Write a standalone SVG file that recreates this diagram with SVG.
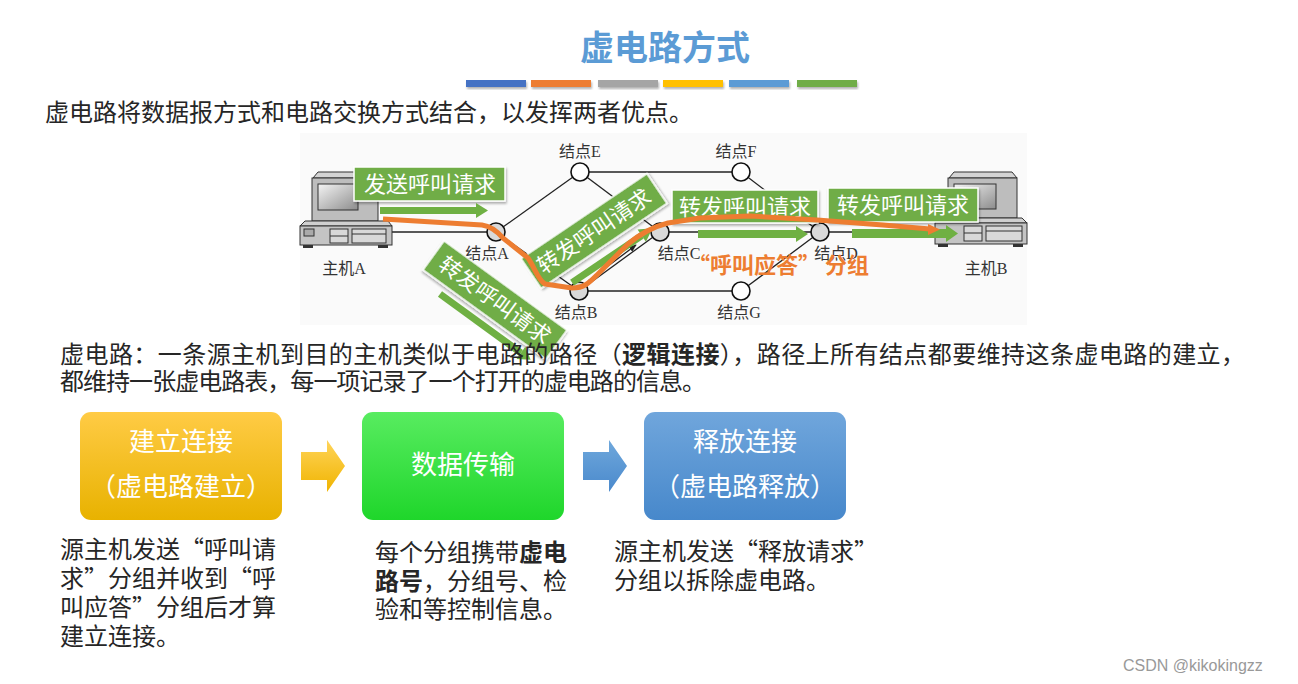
<svg xmlns="http://www.w3.org/2000/svg" width="1298" height="684" viewBox="0 0 1298 684">
<defs>
<style>
.cjk{font-family:"Noto Sans CJK SC","Liberation Sans",sans-serif;}
.body{font-family:"Noto Sans CJK SC","Liberation Sans",sans-serif;font-size:24px;fill:#262626;}
.lbl{font-family:"Liberation Serif","Noto Sans CJK SC",serif;font-size:16px;fill:#333;text-anchor:middle;}
.edge{stroke:#222;stroke-width:1.3;fill:none;}
.node{stroke:#111;stroke-width:1.6;}
.gtag{fill:#70ad47;stroke:#fff;stroke-width:1.5;}
.gtxt{font-family:"Noto Sans CJK SC","Liberation Sans",sans-serif;font-size:22px;fill:#fff;text-anchor:middle;}
.gbar{fill:#6fb043;}
.boxt{font-family:"Noto Sans CJK SC","Liberation Sans",sans-serif;font-size:26px;fill:#fff;text-anchor:middle;}
.pc{stroke:#333;stroke-width:1;}
</style>
<linearGradient id="gy" x1="0" y1="0" x2="0" y2="1"><stop offset="0" stop-color="#ffcb45"/><stop offset="1" stop-color="#e8b200"/></linearGradient>
<linearGradient id="gg" x1="0" y1="0" x2="0" y2="1"><stop offset="0" stop-color="#58ec60"/><stop offset="1" stop-color="#1fd62b"/></linearGradient>
<linearGradient id="gb" x1="0" y1="0" x2="0" y2="1"><stop offset="0" stop-color="#70a6dc"/><stop offset="1" stop-color="#4788cb"/></linearGradient>
<linearGradient id="gya" x1="0" y1="0" x2="0" y2="1"><stop offset="0" stop-color="#ffd45a"/><stop offset="1" stop-color="#f0b400"/></linearGradient>
<linearGradient id="gba" x1="0" y1="0" x2="0" y2="1"><stop offset="0" stop-color="#6fa8dc"/><stop offset="1" stop-color="#4a89cc"/></linearGradient>
<linearGradient id="scr" x1="0" y1="0" x2="1" y2="1"><stop offset="0" stop-color="#f4f4f4"/><stop offset="1" stop-color="#8c8c8c"/></linearGradient>
<marker id="ah" viewBox="0 0 10 10" refX="9" refY="5" markerWidth="6" markerHeight="6" orient="auto"><path d="M0,1 L10,5 L0,9 z" fill="#222"/></marker>
<filter id="sh" x="-5%" y="-20%" width="110%" height="160%"><feDropShadow dx="1" dy="2" stdDeviation="1.2" flood-color="#000" flood-opacity="0.3"/></filter>
</defs>
<rect width="1298" height="684" fill="#fff"/>

<!-- title -->
<g id="title">
<text x="665" y="60" class="cjk" font-size="34" font-weight="bold" fill="#5b9bd5" text-anchor="middle">虚电路方式</text>
<g filter="url(#sh)">
<rect x="466" y="80" width="60" height="7" fill="#4472c4"/>
<rect x="531" y="80" width="60" height="7" fill="#ed7d31"/>
<rect x="598" y="80" width="60" height="7" fill="#a5a5a5"/>
<rect x="663" y="80" width="60" height="7" fill="#ffc000"/>
<rect x="729" y="80" width="60" height="7" fill="#5b9bd5"/>
<rect x="797" y="80" width="60" height="7" fill="#70ad47"/>
</g>
</g>

<text class="body" x="45" y="121" textLength="648" lengthAdjust="spacing">虚电路将数据报方式和电路交换方式结合，以发挥两者优点。</text>

<!-- network figure -->
<rect x="300" y="133" width="727" height="192" fill="#fafafa"/>

<g id="connectors">
<line class="edge" x1="392" y1="232" x2="487" y2="232"/>
<line class="edge" x1="496" y1="232" x2="580" y2="172"/>
<line class="edge" x1="496" y1="232" x2="579" y2="291"/>
<line class="edge" x1="580" y1="172" x2="741" y2="172"/>
<line class="edge" x1="580" y1="172" x2="660" y2="232"/>
<line class="edge" x1="741" y1="172" x2="820" y2="232"/>
<line class="edge" x1="579" y1="291" x2="660" y2="232"/>
<line class="edge" x1="660" y1="232" x2="820" y2="232"/>
<line class="edge" x1="579" y1="291" x2="741" y2="291"/>
<line class="edge" x1="741" y1="291" x2="820" y2="232"/>
<line class="edge" x1="829" y1="232" x2="935" y2="232"/>
<line class="edge" x1="588" y1="281" x2="636" y2="245" marker-end="url(#ah)"/>
</g>

<g id="hostA">
<polygon class="pc" points="313,178 318,172 374,172 378,178" fill="#d4d4d4"/>
<rect class="pc" x="312" y="178" width="66" height="43" fill="#bdbdbd"/>
<rect class="pc" x="318" y="184" width="40" height="26" fill="url(#scr)"/>
<polygon class="pc" points="305,221 300,226 392,226 388,221" fill="#d0d0d0"/>
<rect class="pc" x="300" y="226" width="92" height="19" fill="#c4c4c4"/>
<rect class="pc" x="304" y="229" width="10" height="7" fill="#aaa"/>
<rect class="pc" x="330" y="229" width="18" height="14" fill="#d8d8d8"/>
<line class="pc" x1="330" y1="236" x2="348" y2="236"/>
<rect class="pc" x="352" y="229" width="34" height="14" fill="#d8d8d8"/>
<line class="pc" x1="352" y1="234" x2="386" y2="234"/>
<rect x="303" y="245" width="10" height="3" fill="#333"/>
<rect x="378" y="245" width="10" height="3" fill="#333"/>
<text class="lbl" x="344" y="274">主机A</text>
</g>

<g id="hostB">
<polygon class="pc" points="949,178 954,172 1012,172 1017,178" fill="#d4d4d4"/>
<rect class="pc" x="948" y="178" width="69" height="40" fill="#bdbdbd"/>
<rect class="pc" x="954" y="184" width="42" height="25" fill="url(#scr)"/>
<polygon class="pc" points="940,218 935,223 1027,223 1022,218" fill="#d0d0d0"/>
<rect class="pc" x="935" y="223" width="92" height="21" fill="#c4c4c4"/>
<rect class="pc" x="964" y="226" width="18" height="15" fill="#d8d8d8"/>
<line class="pc" x1="964" y1="233" x2="982" y2="233"/>
<rect class="pc" x="986" y="226" width="36" height="15" fill="#d8d8d8"/>
<line class="pc" x1="986" y1="231" x2="1022" y2="231"/>
<rect x="938" y="244" width="10" height="3" fill="#333"/>
<rect x="1013" y="244" width="10" height="3" fill="#333"/>
<text class="lbl" x="986" y="274">主机B</text>
</g>

<g id="nodeE"><circle class="node" cx="580" cy="172" r="9" fill="#fff"/><text class="lbl" x="580" y="157">结点E</text></g>
<g id="nodeF"><circle class="node" cx="741" cy="172" r="9" fill="#fff"/><text class="lbl" x="736" y="157">结点F</text></g>
<g id="nodeA"><circle class="node" cx="496" cy="232" r="9" fill="#d9d9d9"/><text class="lbl" x="487" y="259">结点A</text></g>
<g id="nodeB"><circle class="node" cx="579" cy="291" r="9" fill="#d9d9d9"/><text class="lbl" x="576" y="318">结点B</text></g>
<g id="nodeC"><circle class="node" cx="660" cy="232" r="9" fill="#d9d9d9"/><text class="lbl" x="679" y="259">结点C</text></g>
<g id="nodeD"><circle class="node" cx="820" cy="232" r="9" fill="#d9d9d9"/><text class="lbl" x="836" y="259">结点D</text></g>
<g id="nodeG"><circle class="node" cx="741" cy="291" r="9" fill="#fff"/><text class="lbl" x="739" y="318">结点G</text></g>

<!-- green tags and arrows -->
<g id="tag1">
<rect class="gtag" x="354" y="167" width="151" height="34" filter="url(#sh)"/>
<text class="gtxt" x="430" y="192">发送呼叫请求</text>
<rect class="gbar" x="380" y="207" width="96" height="7"/>
<polygon class="gbar" points="476,203 488,210.5 476,218"/>
</g>
<g id="tag2" transform="translate(594,231) rotate(-34)">
<rect class="gtag" x="-76" y="-18" width="152" height="36" filter="url(#sh)"/>
<text class="gtxt" x="0" y="8">转发呼叫请求</text>
<rect class="gbar" x="-47" y="27" width="84" height="7"/>
<polygon class="gbar" points="37,23 50,30.5 37,38"/>
</g>
<g id="tag3" transform="translate(495,300) rotate(36)">
<rect class="gtag" x="-76" y="-18" width="152" height="36" filter="url(#sh)"/>
<text class="gtxt" x="0" y="8">转发呼叫请求</text>
<rect class="gbar" x="-48" y="24" width="100" height="7"/>
<polygon class="gbar" points="52,20 64,27.5 52,35"/>
</g>
<g id="tag4">
<rect class="gtag" x="672" y="190" width="146" height="33" filter="url(#sh)"/>
<text class="gtxt" x="745" y="215">转发呼叫请求</text>
<rect class="gbar" x="698" y="230" width="98" height="8"/>
<polygon class="gbar" points="796,226 808,234 796,242"/>
</g>
<g id="tag5">
<rect class="gtag" x="828" y="188" width="150" height="34" filter="url(#sh)"/>
<text class="gtxt" x="903" y="213">转发呼叫请求</text>
<rect class="gbar" x="852" y="229" width="94" height="9"/>
<polygon class="gbar" points="946,225 958,233.5 946,242"/>
</g>

<g id="orangePath">
<path d="M383,219 L482,225 C490,226 496,230 503,238 L528,258 C535,268 538,280 545,284 L572,288 C585,288 590,282 598,274 L628,244 C640,234 652,227 668,223 L700,218 L750,216 L817,220 L883,225 L930,229" fill="none" stroke="#ed7d31" stroke-width="5" stroke-linejoin="round"/>
<polygon points="928,224 940,229.5 928,235" fill="#ed7d31"/>
<text x="688" y="273" class="cjk" font-size="22" font-weight="bold" fill="#ed7d31">“呼叫应答” 分组</text>
</g>

<!-- description -->
<text class="body" x="60" y="363" textLength="1185" lengthAdjust="spacing">虚电路：一条源主机到目的主机类似于电路的路径（<tspan font-weight="bold">逻辑连接</tspan>），路径上所有结点都要维持这条虚电路的建立，</text>
<text class="body" x="60" y="390" textLength="646" lengthAdjust="spacing">都维持一张虚电路表，每一项记录了一个打开的虚电路的信息。</text>

<!-- flow boxes -->
<g id="box1">
<rect x="80" y="412" width="202" height="108" rx="11" fill="url(#gy)"/>
<text class="boxt" x="181" y="451">建立连接</text>
<text class="boxt" x="181" y="496">（虚电路建立）</text>
</g>
<g id="box2">
<rect x="362" y="412" width="202" height="108" rx="11" fill="url(#gg)"/>
<text class="boxt" x="463" y="474">数据传输</text>
</g>
<g id="box3">
<rect x="644" y="412" width="202" height="108" rx="11" fill="url(#gb)"/>
<text class="boxt" x="745" y="451">释放连接</text>
<text class="boxt" x="745" y="496">（虚电路释放）</text>
</g>
<g id="flowArrows">
<polygon points="301,452 327,452 327,440 345,466 327,492 327,480 301,480" fill="url(#gya)"/>
<polygon points="583,452 609,452 609,440 627,466 609,492 609,480 583,480" fill="url(#gba)"/>
</g>

<g id="notes">
<text class="body" x="60" y="558">源主机发送“呼叫请</text>
<text class="body" x="60" y="587">求”分组并收到“呼</text>
<text class="body" x="60" y="616">叫应答”分组后才算</text>
<text class="body" x="60" y="645">建立连接。</text>
<text class="body" x="375" y="561">每个分组携带<tspan font-weight="bold">虚电</tspan></text>
<text class="body" x="375" y="590"><tspan font-weight="bold">路号</tspan>，分组号、检</text>
<text class="body" x="375" y="618">验和等控制信息。</text>
<text class="body" x="614" y="560">源主机发送“释放请求”</text>
<text class="body" x="614" y="589">分组以拆除虚电路。</text>
</g>

<text x="1123" y="671" font-family="Liberation Sans,sans-serif" font-size="16" fill="#999">CSDN @kikokingzz</text>
</svg>
